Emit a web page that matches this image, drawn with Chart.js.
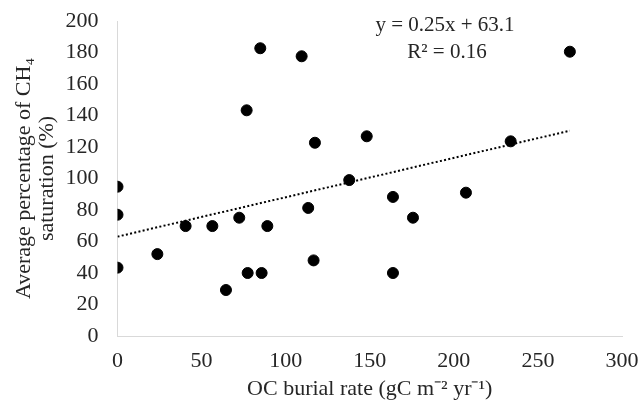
<!DOCTYPE html>
<html>
<head>
<meta charset="utf-8">
<script src="https://cdn.jsdelivr.net/npm/chart.js@4/dist/chart.umd.min.js"></script>
<style>
html,body{margin:0;padding:0;background:#fff;}
#wrap{width:640px;height:406px;position:relative;}
</style>
</head>
<body>
<div id="wrap"><canvas id="c" width="640" height="406"></canvas></div>
<script>
// OC burial rate (gC m-2 yr-1)
const burialRate = [0, 0, 0, 23.7, 40.5, 56.4, 64.5, 72.4, 77.4, 76.8, 84.9, 85.7, 89.1, 109.5, 113.4, 116.6, 117.4, 137.8, 148.2, 163.8, 163.8, 175.7, 207.2, 233.8, 269];
// Average percentage of CH4 saturation (%)
const ch4Saturation = [94.8, 77, 43.4, 52, 69.8, 69.8, 29.2, 75.1, 40, 143.3, 182.7, 40, 69.8, 177.6, 81.3, 48, 122.7, 99, 126.8, 88.3, 40, 75.1, 91, 123.6, 180.5];
// Linear trend: y = 0.25x + 63.1
const trendSlope = 0.25;
const trendIntercept = 63.1;
const trendX = [0, 269];
const xTicks = [0, 50, 100, 150, 200, 250, 300];
const yTicks = [0, 20, 40, 60, 80, 100, 120, 140, 160, 180, 200];

const scatterData = burialRate.map((x, i) => ({x: x, y: ch4Saturation[i]}));
const trendData = trendX.map(x => ({x: x, y: trendSlope * x + trendIntercept}));

const FONT = "'Liberation Serif', 'Times New Roman', serif";
const TXT = '#262626';

const eqPlugin = {
  id: 'eq',
  afterDraw(chart) {
    const ctx = chart.ctx;
    ctx.save();
    ctx.fillStyle = TXT;
    ctx.font = "21px " + FONT;
    ctx.textAlign = 'center';
    ctx.textBaseline = 'middle';
    ctx.fillText('y = 0.25x + 63.1', 445, 25);
    ctx.fillText('R² = 0.16', 447, 52);
    ctx.restore();
  }
};

new Chart(document.getElementById('c'), {
  type: 'scatter',
  data: {
    datasets: [
      {
        label: 'data',
        data: scatterData,
        backgroundColor: '#000',
        borderColor: '#000',
        pointRadius: 5.5,
        pointHoverRadius: 5.5,
        order: 1
      },
      {
        label: 'trend',
        type: 'line',
        data: trendData,
        borderColor: '#000',
        borderWidth: 2,
        borderDash: [2, 2.3],
        pointRadius: 0,
        fill: false,
        order: 2
      }
    ]
  },
  options: {
    responsive: false,
    animation: false,
    devicePixelRatio: 1,
    layout: {padding: {left: 0, right: 18, top: 21, bottom: 0}},
    plugins: {legend: {display: false}, tooltip: {enabled: false}},
    scales: {
      x: {
        type: 'linear',
        min: 0, max: 300,
        afterBuildTicks(scale) { scale.ticks = xTicks.map(v => ({value: v})); },
        afterFit(scale) { scale.height = 70; scale.paddingLeft = 0; scale.paddingRight = 0; },
        grid: {display: false, drawTicks: false},
        border: {display: true, color: '#d9d9d9', width: 1},
        ticks: {color: TXT, font: {family: FONT, size: 22}, padding: 12, maxRotation: 0},
        title: {display: true, text: 'OC burial rate (gC m⁻² yr⁻¹)', color: TXT, font: {family: FONT, size: 22}, padding: {top: 0, bottom: 4}}
      },
      y: {
        type: 'linear',
        min: 0, max: 200,
        afterBuildTicks(scale) { scale.ticks = yTicks.map(v => ({value: v})); },
        afterFit(scale) { scale.width = 117.5; scale.paddingTop = 0; scale.paddingBottom = 0; },
        grid: {display: false, drawTicks: false},
        border: {display: true, color: '#d9d9d9', width: 1},
        ticks: {color: TXT, font: {family: FONT, size: 22}, padding: 19},
        title: {display: true, text: ['Average percentage of CH₄', 'saturation (%)'], color: TXT, font: {family: FONT, size: 22, lineHeight: 1.05}, padding: {top: 13, bottom: 0}}
      }
    }
  },
  plugins: [eqPlugin]
});
</script>
</body>
</html>
